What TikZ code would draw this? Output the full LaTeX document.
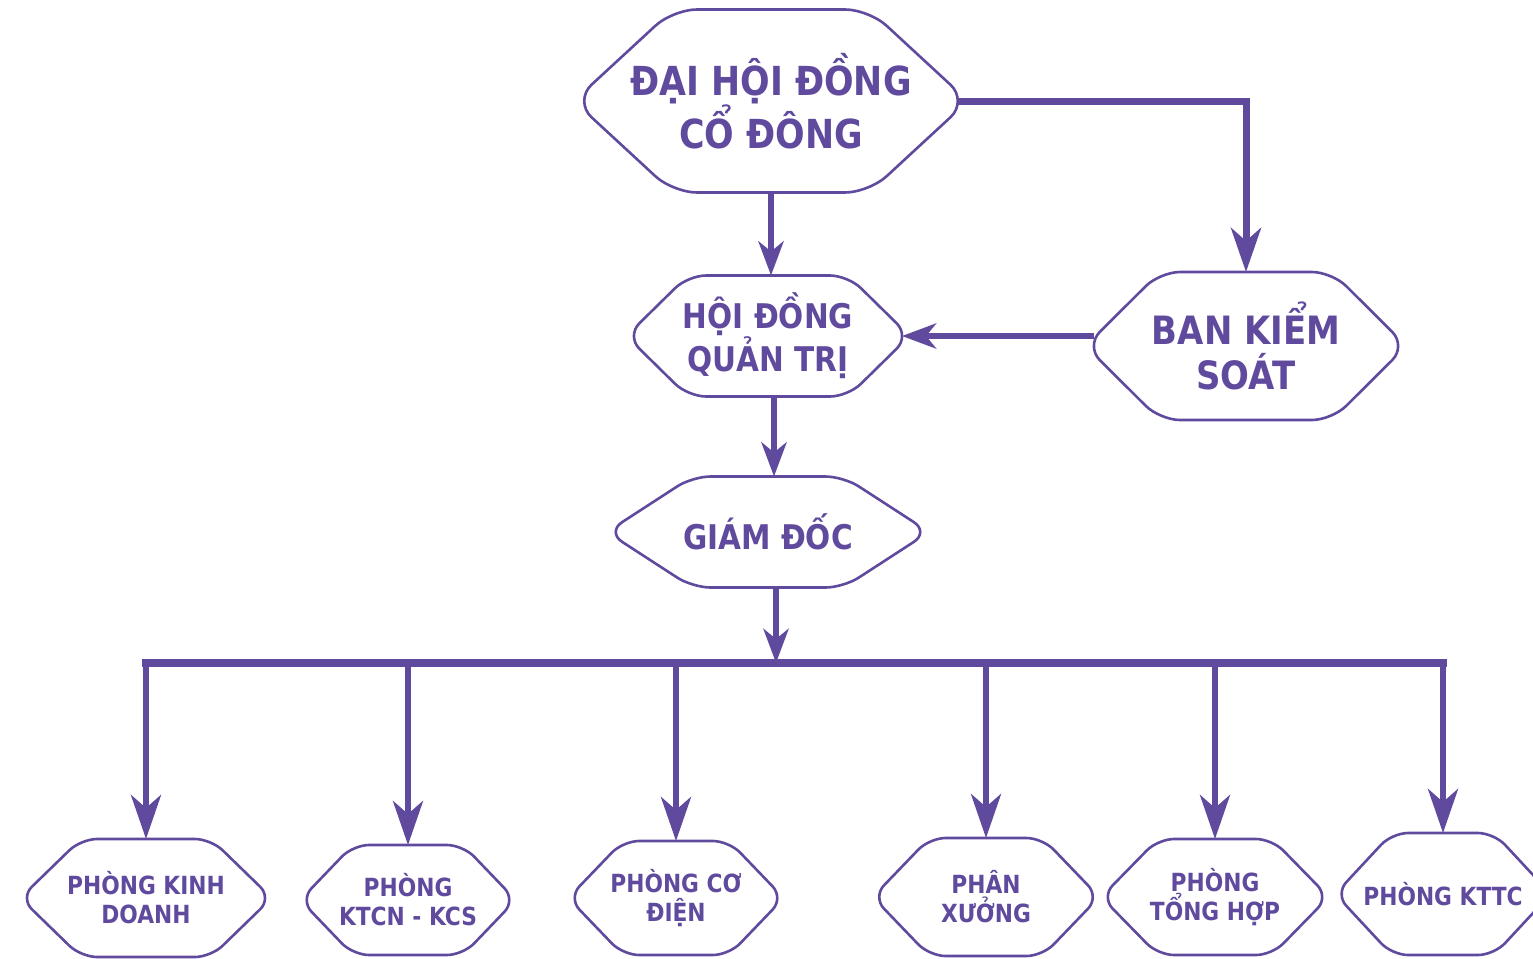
\documentclass[tikz,border=0pt]{standalone}
\usepackage{fontspec}
\setmainfont{DejaVu Sans}[FakeStretch=0.87]
\usetikzlibrary{arrows.meta,positioning}
\definecolor{vio}{HTML}{604A9E}
% hexagon outline round a named node, #3 = length of the pointed sides
\newcommand\hexframe[3][16pt]{\draw[draw=vio, line width=2.6pt, rounded corners=#1] ([xshift={-0.42*#1}]#2.west) -- ([xshift=#3]#2.north west) -- ([xshift=-#3]#2.north east) -- ([xshift={0.42*#1}]#2.east) -- ([xshift=-#3]#2.south east) -- ([xshift=#3]#2.south west) -- cycle;}

\begin{document}
\begin{tikzpicture}[x=1pt,y=-1pt,
    hexa/.style={rectangle, inner sep=0pt, outer sep=0pt, align=center, text=vio, font=\bfseries},
    small/.style={font=\bfseries\fontsize{25}{29}\selectfont},
    arr/.style={draw=vio, line width=6pt, -{Stealth[length=44pt,width=30pt,inset=13pt]}},
    arrs/.style={draw=vio, line width=6pt, -{Stealth[length=34pt,width=25pt,inset=10pt]}},
    busline/.style={draw=vio, line width=8pt, line cap=rect}]
    \useasboundingbox (0,0) rectangle (1533,958);
    % top levels
    \node[hexa, minimum width=374pt, minimum height=183pt, font=\bfseries\fontsize{40}{42}\selectfont] (dhcd) at (771,101) {ĐẠI HỘI ĐỒNG\\CỔ ĐÔNG};
    \node[hexa, minimum width=268pt, minimum height=121pt, font=\bfseries\fontsize{34}{38}\selectfont] (hdqt) at (768,336) {HỘI ĐỒNG\\QUẢN TRỊ};
    \node[hexa, minimum width=304pt, minimum height=148pt, font=\bfseries\fontsize{39}{45}\selectfont] (bks) at (1246,346) {BAN KIỂM\\SOÁT};
    \node[hexa, minimum width=307pt, minimum height=111pt, font=\bfseries\fontsize{34}{40}\selectfont] (gd) at (768,532) {GIÁM ĐỐC};
    \hexframe[24pt]{dhcd}{89pt}
    \hexframe[18pt]{hdqt}{54pt}
    \hexframe[20pt]{bks}{66pt}
    \hexframe[18pt]{gd}{78pt}
    \draw[arrs] (dhcd.south) -- (dhcd.south |- hdqt.north);
    \draw[arr, line width=7pt] (dhcd.east) -| (bks.north);
    \draw[arrs] (hdqt.east -| bks.west) -- (hdqt.east);
    \draw[arrs] ([xshift=6pt]hdqt.south) -- ([xshift=6pt]hdqt.south |- gd.north);
    % departments
    \node[hexa, small, minimum width=238pt, minimum height=118pt] (pkd) at (146,898) {PHÒNG KINH\\DOANH};
    \node[hexa, small, minimum width=202pt, minimum height=110pt] (ktcn) at (408,900) {PHÒNG\\KTCN - KCS};
    \node[hexa, small, minimum width=202pt, minimum height=114pt] (pcd) at (676,898) {PHÒNG CƠ\\ĐIỆN};
    \node[hexa, small, minimum width=213pt, minimum height=118pt] (px) at (986,897) {PHÂN\\XƯỞNG};
    \node[hexa, small, minimum width=214pt, minimum height=116pt] (pth) at (1215,897) {PHÒNG\\TỔNG HỢP};
    \node[hexa, small, minimum width=202pt, minimum height=122pt] (kttc) at (1443,894) {PHÒNG KTTC};
    \hexframe{pkd}{54pt}
    \hexframe{ktcn}{46pt}
    \hexframe{pcd}{48pt}
    \hexframe{px}{50pt}
    \hexframe{pth}{50pt}
    \hexframe{kttc}{50pt}
    \coordinate (bus) at (776,663);
    \draw[arrs] (gd.south -| bus) -- (bus);
    \draw[busline] (pkd.north |- bus) -- (kttc.north |- bus);
    \draw[arr] (pkd.north |- bus) -- (pkd.north);
    \draw[arr] (ktcn.north |- bus) -- (ktcn.north);
    \draw[arr] (pcd.north |- bus) -- (pcd.north);
    \draw[arr] (px.north |- bus) -- (px.north);
    \draw[arr] (pth.north |- bus) -- (pth.north);
    \draw[arr] (kttc.north |- bus) -- (kttc.north);
\end{tikzpicture}
\end{document}
